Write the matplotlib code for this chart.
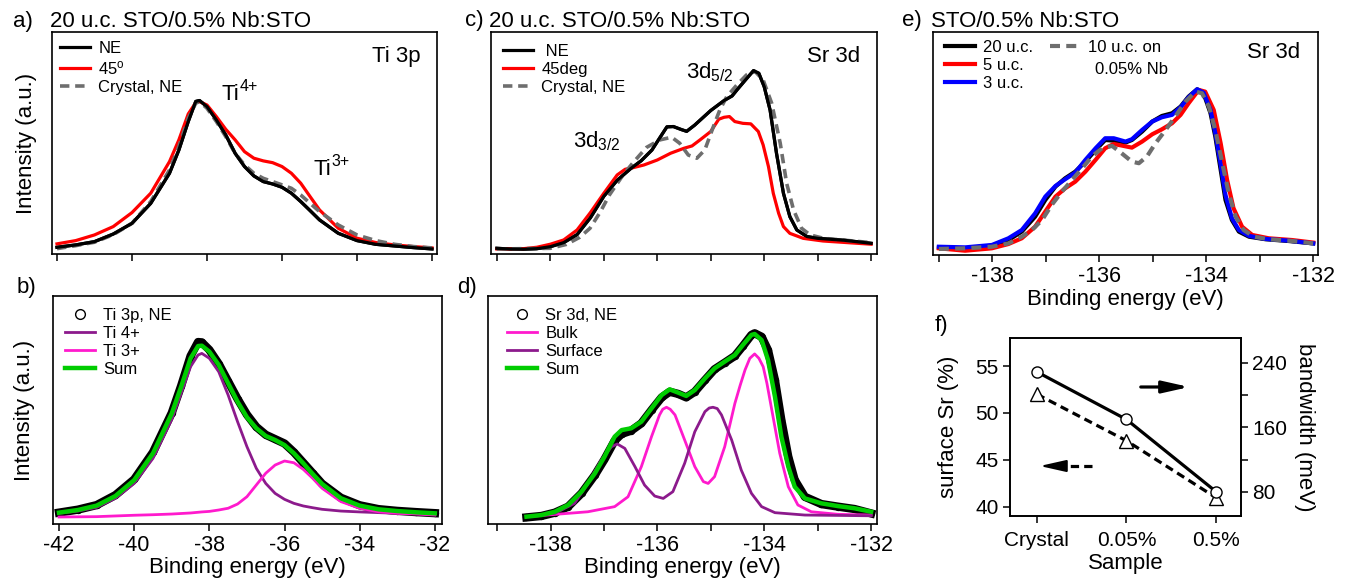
import matplotlib
matplotlib.use('Agg')
import matplotlib.pyplot as plt
from matplotlib.lines import Line2D

plt.rcParams['font.family'] = ['Liberation Sans', 'DejaVu Sans']
plt.rcParams['mathtext.fontset'] = 'custom'
plt.rcParams['mathtext.rm'] = 'Liberation Sans'
plt.rcParams['mathtext.it'] = 'Liberation Sans:italic'
plt.rcParams['axes.unicode_minus'] = False

# ---------------- data ----------------
# panel a / b : Ti 3p
ti_ev = [-42, -41.5, -41, -40.5, -40, -39.5, -39, -38.75, -38.5, -38.3, -38.2, -38.0, -37.75, -37.5,
         -37.25, -37.0, -36.75, -36.5, -36.25, -36.0, -35.75, -35.5, -35.25, -35.0, -34.5, -34.0,
         -33.5, -33.0, -32.5, -32.0]
ti_ne = [0.011, 0.027, 0.049, 0.10, 0.172, 0.306, 0.508, 0.664, 0.855, 0.99, 0.996, 0.955, 0.866, 0.765,
         0.642, 0.553, 0.49, 0.452, 0.436, 0.414, 0.374, 0.318, 0.257, 0.195, 0.105, 0.056, 0.031, 0.02,
         0.009, 0.0]
ti_45 = [0.034, 0.056, 0.094, 0.15, 0.244, 0.374, 0.586, 0.732, 0.906, 0.982, 0.989, 0.966, 0.888, 0.803,
         0.732, 0.653, 0.609, 0.591, 0.579, 0.553, 0.508, 0.441, 0.351, 0.262, 0.139, 0.072, 0.043, 0.027,
         0.016, 0.007]
ti_crystal = [0.002, 0.022, 0.045, 0.096, 0.172, 0.318, 0.53, 0.687, 0.877, 0.978, 0.989, 0.944, 0.855,
              0.754, 0.642, 0.564, 0.508, 0.474, 0.452, 0.43, 0.407, 0.362, 0.306, 0.251, 0.161, 0.094,
              0.056, 0.031, 0.016, 0.007]
ti_data = [0.025, 0.042, 0.068, 0.125, 0.215, 0.37, 0.595, 0.75, 0.92, 1.0, 0.998, 0.955, 0.875, 0.775,
           0.675, 0.585, 0.515, 0.47, 0.445, 0.42, 0.37, 0.31, 0.25, 0.19, 0.11, 0.067, 0.045, 0.035,
           0.028, 0.022]
ti_sum = [0.025, 0.04, 0.065, 0.12, 0.211, 0.364, 0.592, 0.745, 0.907, 0.977, 0.979, 0.945, 0.869, 0.764,
          0.659, 0.57, 0.507, 0.463, 0.44, 0.411, 0.364, 0.307, 0.246, 0.189, 0.107, 0.065, 0.044, 0.034,
          0.027, 0.021]
ti4_fit = [0.021, 0.034, 0.055, 0.107, 0.192, 0.335, 0.558, 0.707, 0.859, 0.926, 0.935, 0.907, 0.83, 0.697,
           0.545, 0.402, 0.278, 0.192, 0.135, 0.101, 0.078, 0.063, 0.053, 0.044, 0.034, 0.029, 0.025,
           0.021, 0.019, 0.017]
ti3_fit = [0.0, 0.001, 0.002, 0.006, 0.01, 0.013, 0.017, 0.02, 0.023, 0.027, 0.029, 0.032, 0.04, 0.05,
           0.074, 0.116, 0.183, 0.25, 0.297, 0.32, 0.31, 0.272, 0.221, 0.164, 0.088, 0.05, 0.03, 0.021,
           0.017, 0.011]
ti_ticks = [-42, -40, -38, -36, -34, -32]

# panel c : Sr 3d, 20 u.c.
c_ne_ev = [-139.0, -138.75, -138.5, -138.25, -138.0, -137.75, -137.5, -137.25, -137.0, -136.75, -136.5,
           -136.3, -136.1, -135.95, -135.82, -135.7, -135.55, -135.45, -135.3, -135.0, -134.75, -134.6,
           -134.5, -134.35, -134.2, -134.1, -134.0, -133.89, -133.77, -133.64, -133.52, -133.39, -133.2,
           -133.0, -132.5, -132.0]
c_ne = [-0.002, -0.006, -0.007, -0.004, 0.007, 0.03, 0.075, 0.17, 0.29, 0.38, 0.445, 0.49, 0.55, 0.62,
        0.68, 0.682, 0.665, 0.655, 0.69, 0.772, 0.828, 0.854, 0.891, 0.944, 0.996, 0.981, 0.906, 0.775,
        0.532, 0.307, 0.176, 0.101, 0.064, 0.054, 0.043, 0.026]
c_45_ev = [-139.0, -138.5, -138.25, -138.0, -137.75, -137.5, -137.25, -137.0, -136.75, -136.6, -136.45,
           -136.25, -136.0, -135.75, -135.5, -135.35, -135.2, -135.0, -134.85, -134.75, -134.65, -134.55,
           -134.4, -134.25, -134.11, -134.02, -133.92, -133.83, -133.73, -133.64, -133.52, -133.27,
           -132.9, -132.0]
c_45 = [-0.006, -0.004, 0.004, 0.021, 0.045, 0.101, 0.199, 0.307, 0.41, 0.442, 0.451, 0.466, 0.494, 0.532,
        0.56, 0.573, 0.607, 0.654, 0.723, 0.734, 0.738, 0.71, 0.7, 0.697, 0.654, 0.579, 0.457, 0.307,
        0.195, 0.12, 0.082, 0.054, 0.039, 0.021]
c_cr_ev = [-139.0, -138.0, -137.7, -137.45, -137.26, -137.07, -136.89, -136.64, -136.45, -136.2, -135.95,
           -135.73, -135.58, -135.42, -135.26, -135.11, -134.95, -134.83, -134.7, -134.51, -134.33,
           -134.17, -134.02, -133.86, -133.7, -133.58, -133.45, -133.3, -133.14, -132.89, -132.0]
c_cr = [-0.006, -0.002, 0.02, 0.06, 0.11, 0.2, 0.3, 0.41, 0.48, 0.565, 0.607, 0.622, 0.588, 0.522, 0.504,
        0.551, 0.682, 0.775, 0.85, 0.916, 0.972, 0.991, 0.944, 0.813, 0.588, 0.363, 0.213, 0.11, 0.073,
        0.054, 0.03]

# panel d : Sr 3d fit
d_ev = [-138.45, -138.17, -137.92, -137.67, -137.42, -137.17, -136.99, -136.8, -136.67, -136.49, -136.3,
        -136.11, -135.92, -135.77, -135.61, -135.46, -135.3, -135.11, -134.93, -134.74, -134.55, -134.4,
        -134.24, -134.18, -134.05, -133.93, -133.8, -133.68, -133.55, -133.43, -133.24, -132.93, -132.62,
        -132.31, -132.0]
d_sum = [0, 0.009, 0.027, 0.064, 0.137, 0.237, 0.328, 0.438, 0.474, 0.484, 0.52, 0.593, 0.666, 0.697,
         0.679, 0.661, 0.693, 0.757, 0.812, 0.849, 0.885, 0.94, 0.995, 1.0, 0.967, 0.858, 0.657, 0.438,
         0.274, 0.164, 0.1, 0.073, 0.058, 0.046, 0.027]
d_data = [-0.004, 0.004, 0.022, 0.055, 0.128, 0.228, 0.314, 0.416, 0.453, 0.471, 0.511, 0.584, 0.653,
          0.684, 0.672, 0.653, 0.684, 0.748, 0.807, 0.843, 0.88, 0.934, 0.995, 1.004, 0.985, 0.912, 0.748,
          0.529, 0.328, 0.201, 0.109, 0.069, 0.055, 0.042, 0.018]
d_bulk_ev = [-138.45, -137.3, -136.8, -136.55, -136.3, -136.11, -135.96, -135.9, -135.83, -135.76, -135.67,
             -135.49, -135.3, -135.14, -135.05, -134.93, -134.74, -134.55, -134.45, -134.36, -134.27,
             -134.18, -134.1, -134.02, -133.95, -133.87, -133.71, -133.55, -133.37, -133.12, -132.62, -132.0]
d_bulk = [0, 0.027, 0.055, 0.109, 0.274, 0.438, 0.557, 0.588, 0.599, 0.588, 0.557, 0.42, 0.274, 0.192,
          0.182, 0.219, 0.383, 0.62, 0.72, 0.803, 0.867, 0.891, 0.867, 0.821, 0.73, 0.602, 0.347, 0.164,
          0.064, 0.027, 0.013, 0.009]
d_surf_ev = [-138.45, -137.92, -137.55, -137.3, -137.05, -136.86, -136.75, -136.61, -136.42, -136.24,
             -136.05, -135.89, -135.71, -135.49, -135.3, -135.11, -135.03, -134.96, -134.88, -134.8,
             -134.61, -134.43, -134.24, -134.05, -133.8, -133.24, -132.0]
d_surf = [0, 0.018, 0.073, 0.182, 0.31, 0.383, 0.398, 0.374, 0.274, 0.173, 0.113, 0.1, 0.137, 0.292,
          0.465, 0.575, 0.595, 0.599, 0.592, 0.557, 0.42, 0.255, 0.128, 0.055, 0.022, 0.009, 0.005]

# panel e : thickness series
e_ev = [-139.0, -138.51, -138.01, -137.70, -137.45, -137.20, -137.01, -136.82, -136.64, -136.45, -136.26,
        -136.07, -135.89, -135.73, -135.51, -135.39, -135.20, -135.01, -134.83, -134.64, -134.48, -134.33,
        -134.17, -134.05, -133.92, -133.83, -133.73, -133.64, -133.52, -133.39, -133.20, -132.89, -132.46,
        -132.0]
e_20 = [0.004, 0.0, 0.017, 0.052, 0.105, 0.199, 0.304, 0.388, 0.44, 0.482, 0.545, 0.618, 0.681, 0.677,
        0.665, 0.681, 0.734, 0.797, 0.832, 0.849, 0.891, 0.954, 1.0, 0.975, 0.849, 0.702, 0.493, 0.304,
        0.178, 0.105, 0.073, 0.057, 0.046, 0.031]
e_3 = [0.01, 0.006, 0.021, 0.063, 0.115, 0.22, 0.325, 0.392, 0.434, 0.476, 0.556, 0.629, 0.692, 0.692,
       0.671, 0.686, 0.744, 0.797, 0.824, 0.839, 0.887, 0.95, 1.0, 0.979, 0.87, 0.723, 0.524, 0.335, 0.189,
       0.115, 0.078, 0.059, 0.048, 0.031]
e_5_ev = [-139.0, -138.51, -138.01, -137.70, -137.45, -137.20, -137.01, -136.82, -136.64, -136.45, -136.26,
          -136.07, -135.89, -135.73, -135.58, -135.39, -135.20, -135.01, -134.83, -134.64, -134.48,
          -134.33, -134.14, -134.02, -133.86, -133.73, -133.61, -133.49, -133.33, -133.14, -132.83,
          -132.39, -132.0]
e_5 = [0.0, -0.015, 0.0, 0.027, 0.063, 0.136, 0.231, 0.325, 0.377, 0.419, 0.482, 0.556, 0.629, 0.656,
       0.646, 0.633, 0.671, 0.717, 0.748, 0.786, 0.839, 0.912, 0.996, 0.985, 0.87, 0.66, 0.43, 0.252, 0.136,
       0.084, 0.063, 0.052, 0.036]
e_10_ev = [-139.0, -138.51, -138.01, -137.70, -137.45, -137.26, -137.07, -136.89, -136.70, -136.51,
           -136.32, -136.14, -135.95, -135.76, -135.58, -135.39, -135.26, -135.11, -134.95, -134.76,
           -134.58, -134.39, -134.20, -134.08, -133.95, -133.83, -133.70, -133.58, -133.45, -133.30,
           -133.11, -132.83, -132.39, -132.0]
e_10 = [-0.004, 0.0, 0.01, 0.031, 0.073, 0.115, 0.178, 0.273, 0.356, 0.43, 0.503, 0.577, 0.629, 0.644,
        0.597, 0.545, 0.535, 0.577, 0.66, 0.744, 0.828, 0.922, 0.985, 0.975, 0.891, 0.744, 0.535, 0.346,
        0.199, 0.115, 0.073, 0.057, 0.046, 0.031]
sr_ticks = [-139, -138, -137, -136, -135, -134, -133, -132]
sr_ticklabels = ['', '-138', '', '-136', '', '-134', '', '-132']

# panel f
samples = ['Crystal', '0.05%', '0.5%']
surface_sr = [52.0, 47.05, 41.0]
bandwidth = [229, 170, 80.5]
sr_yticks = [40, 45, 50, 55]
bw_yticks = [80, 120, 160, 200, 240]
bw_yticklabels = ['80', '', '160', '', '240']

# ---------------- style ----------------
BLACK = '#000000'
RED = '#ff0000'
GRAY = '#6e6e6e'
PURPLE = '#8c1a8c'
PINK = '#ff1acd'
GREEN = '#00cc00'
BLUE = '#0000ff'

W, H = 1349, 579
fig = plt.figure(figsize=(W / 100, H / 100), dpi=100)


def fx(x):
    return x / W


def fy(y):
    return 1 - y / H


def add_ax(l, t, r, b):
    return fig.add_axes([l / W, 1 - b / H, (r - l) / W, (b - t) / H])


def style(ax, labelsize=15.5):
    for s in ax.spines.values():
        s.set_linewidth(1.2)
    ax.tick_params(axis='x', direction='out', length=5, width=1.1, labelsize=labelsize, pad=3)
    ax.set_yticks([])


def legend(ax, handles, labels, x, top):
    return ax.legend(handles, labels, loc='upper left', bbox_to_anchor=(fx(x), fy(top)),
                     bbox_transform=fig.transFigure, frameon=False, fontsize=12,
                     handlelength=1.8, handletextpad=0.5, labelspacing=0.18,
                     borderpad=0, borderaxespad=0)


def ftext(x, y, s, size=16, **kw):
    fig.text(fx(x), fy(y), s, fontsize=size, va='baseline', ha='left', **kw)


dash_gray = dict(color=GRAY, lw=2.6, ls=(0, (2.6, 1.6)))
data_marker = Line2D([], [], marker='o', ls='none', mfc='none', mec='k', ms=7, mew=1)

# ---------------- panel a ----------------
ax_a = add_ax(52, 32, 437, 254)
l1, = ax_a.plot(ti_ev, ti_ne, color=BLACK, lw=2.3)
l2, = ax_a.plot(ti_ev, ti_45, color=RED, lw=2.3)
l3, = ax_a.plot(ti_ev, ti_crystal, **dash_gray)
ax_a.plot(ti_ev, ti_ne, color=BLACK, lw=2.3)
ax_a.set_xlim(-42.133, -31.867)
ax_a.set_ylim(-0.034, 1.456)
style(ax_a)
ax_a.set_xticks(ti_ticks)
ax_a.set_xticklabels([])
ax_a.set_ylabel('Intensity (a.u.)', fontsize=16, labelpad=11)
legend(ax_a, [l1, l2, l3], ['NE', '45$^{\\mathrm{o}}$', 'Crystal, NE'], 60, 41)
ftext(372, 62, 'Ti 3p')
ftext(222, 100, 'Ti')
ftext(240, 91, '4+', size=11.5)
ftext(313, 175, 'Ti')
ftext(331, 166, '3+', size=11.5)

# ---------------- panel b ----------------
ax_b = add_ax(53, 296, 442, 524)
ax_b.plot(ti_ev, ti_data, color=BLACK, lw=6, marker='o', ms=4.5, mfc='none', mec='k', mew=0.8)
m1, = ax_b.plot(ti_ev, ti4_fit, color=PURPLE, lw=2.0)
m2, = ax_b.plot(ti_ev, ti3_fit, color=PINK, lw=2.0)
m3, = ax_b.plot(ti_ev, ti_sum, color=GREEN, lw=3.2)
ax_b.set_xlim(-42.16, -31.81)
ax_b.set_ylim(-0.04, 1.263)
style(ax_b)
ax_b.set_xticks(ti_ticks)
ax_b.set_xticklabels([str(t) for t in ti_ticks])
ax_b.set_xlabel('Binding energy (eV)', fontsize=16, labelpad=1)
ax_b.set_ylabel('Intensity (a.u.)', fontsize=16, labelpad=13)
legend(ax_b, [data_marker, m1, m2, m3], ['Ti 3p, NE', 'Ti 4+', 'Ti 3+', 'Sum'], 65, 308)

# ---------------- panel c ----------------
ax_c = add_ax(491, 32, 877, 254)
c1, = ax_c.plot(c_ne_ev, c_ne, color=BLACK, lw=2.3)
c2, = ax_c.plot(c_45_ev, c_45, color=RED, lw=2.3)
c3, = ax_c.plot(c_cr_ev, c_cr, **dash_gray)
ax_c.plot(c_ne_ev, c_ne, color=BLACK, lw=2.3)
ax_c.set_xlim(-139.11, -131.89)
ax_c.set_ylim(-0.034, 1.213)
style(ax_c)
ax_c.set_xticks(sr_ticks)
ax_c.set_xticklabels([])
legend(ax_c, [c1, c2, c3], [' NE', '45deg', 'Crystal, NE'], 503, 44)
ftext(807, 62, 'Sr 3d')
ftext(686, 78, '3d$_{5/2}$')
ftext(573, 147, '3d$_{3/2}$')

# ---------------- panel d ----------------
ax_d = add_ax(488, 296, 877, 524)
ax_d.plot(d_ev, d_data, color=BLACK, lw=6, marker='o', ms=4.5, mfc='none', mec='k', mew=0.8)
n1, = ax_d.plot(d_bulk_ev, d_bulk, color=PINK, lw=2.0)
n2, = ax_d.plot(d_surf_ev, d_surf, color=PURPLE, lw=2.0)
n3, = ax_d.plot(d_ev, d_sum, color=GREEN, lw=3.2)
ax_d.set_xlim(-139.17, -131.89)
ax_d.set_ylim(-0.04, 1.208)
style(ax_d)
ax_d.set_xticks(sr_ticks)
ax_d.set_xticklabels(sr_ticklabels)
ax_d.set_xlabel('Binding energy (eV)', fontsize=16, labelpad=1)
legend(ax_d, [data_marker, n1, n2, n3], ['Sr 3d, NE', 'Bulk', 'Surface', 'Sum'], 507, 308)

# ---------------- panel e ----------------
ax_e = add_ax(933, 32, 1318, 255)
k1, = ax_e.plot(e_ev, e_20, color=BLACK, lw=3.0)
k2, = ax_e.plot(e_5_ev, e_5, color=RED, lw=3.0)
k3, = ax_e.plot(e_ev, e_3, color=BLUE, lw=3.0)
k4, = ax_e.plot(e_10_ev, e_10, color=GRAY, lw=3.0, ls=(0, (2.4, 1.5)))
ax_e.set_xlim(-139.11, -131.91)
ax_e.set_ylim(-0.042, 1.36)
style(ax_e)
ax_e.set_xticks(sr_ticks)
ax_e.set_xticklabels(sr_ticklabels)
ax_e.set_xlabel('Binding energy (eV)', fontsize=16, labelpad=1)
leg_e1 = legend(ax_e, [k1, k2, k3], ['20 u.c.', '5 u.c.', '3 u.c.'], 945, 40)
ax_e.add_artist(leg_e1)
legend(ax_e, [k4], ['10 u.c. on'], 1050, 40)
ftext(1095, 74, '0.05% Nb', size=12)
ftext(1247, 58, 'Sr 3d')

# ---------------- panel f ----------------
ax_f = add_ax(1010, 338, 1241, 516)
ax_f.plot(samples, surface_sr, color=BLACK, lw=2.3, ls=(0, (2.6, 1.6)), marker='^', ms=10,
          mfc='white', mec='k', mew=1.0)
ax_f.set_xlim(-0.3, 2.28)
ax_f.set_ylim(39.04, 57.98)
ax_f.set_yticks(sr_yticks)
ax_f.set_ylabel('surface Sr (%)', fontsize=16, labelpad=12)
ax_f.set_xlabel('Sample', fontsize=16, labelpad=2)
ax_g = ax_f.twinx()
ax_g.plot(samples, bandwidth, color=BLACK, lw=2.3, marker='o', ms=8, mfc='white', mec='k', mew=1.0)
ax_g.set_ylim(50.2, 271)
ax_g.set_yticks(bw_yticks)
ax_g.set_yticklabels(bw_yticklabels)
ax_g.set_ylabel('bandwidth (meV)', fontsize=16, rotation=270, labelpad=20)
for a in (ax_f, ax_g):
    for s in a.spines.values():
        s.set_linewidth(1.2)
    a.tick_params(direction='out', length=5, width=1.1, labelsize=15, pad=3)
ax_f.tick_params(axis='x', pad=6)

fig.add_artist(matplotlib.patches.FancyArrowPatch(
    (fx(1138), fy(387)), (fx(1192), fy(387)), transform=fig.transFigure,
    arrowstyle='-|>,head_length=0.8,head_width=0.18', mutation_scale=20, lw=2.3, color='k'))
fig.add_artist(Line2D([fx(1092), fx(1052)], [fy(466), fy(466)], transform=fig.transFigure,
                      color='k', lw=2.3, ls=(0, (2.6, 1.6))))
fig.add_artist(matplotlib.patches.FancyArrowPatch(
    (fx(1058), fy(466)), (fx(1037), fy(466)), transform=fig.transFigure,
    arrowstyle='-|>,head_length=0.8,head_width=0.18', mutation_scale=20, lw=1.5, color='k'))

# ---------------- panel letters / titles ----------------
ftext(13, 27, 'a)')
ftext(50, 27, '20 u.c. STO/0.5% Nb:STO')
ftext(17, 293, 'b)')
ftext(465, 26, 'c)')
ftext(489, 27, '20 u.c. STO/0.5% Nb:STO')
ftext(457, 293, 'd)')
ftext(902, 26, 'e)')
ftext(931, 27, 'STO/0.5% Nb:STO')
ftext(935, 331, 'f)')

fig.savefig('out.png', dpi=100)
